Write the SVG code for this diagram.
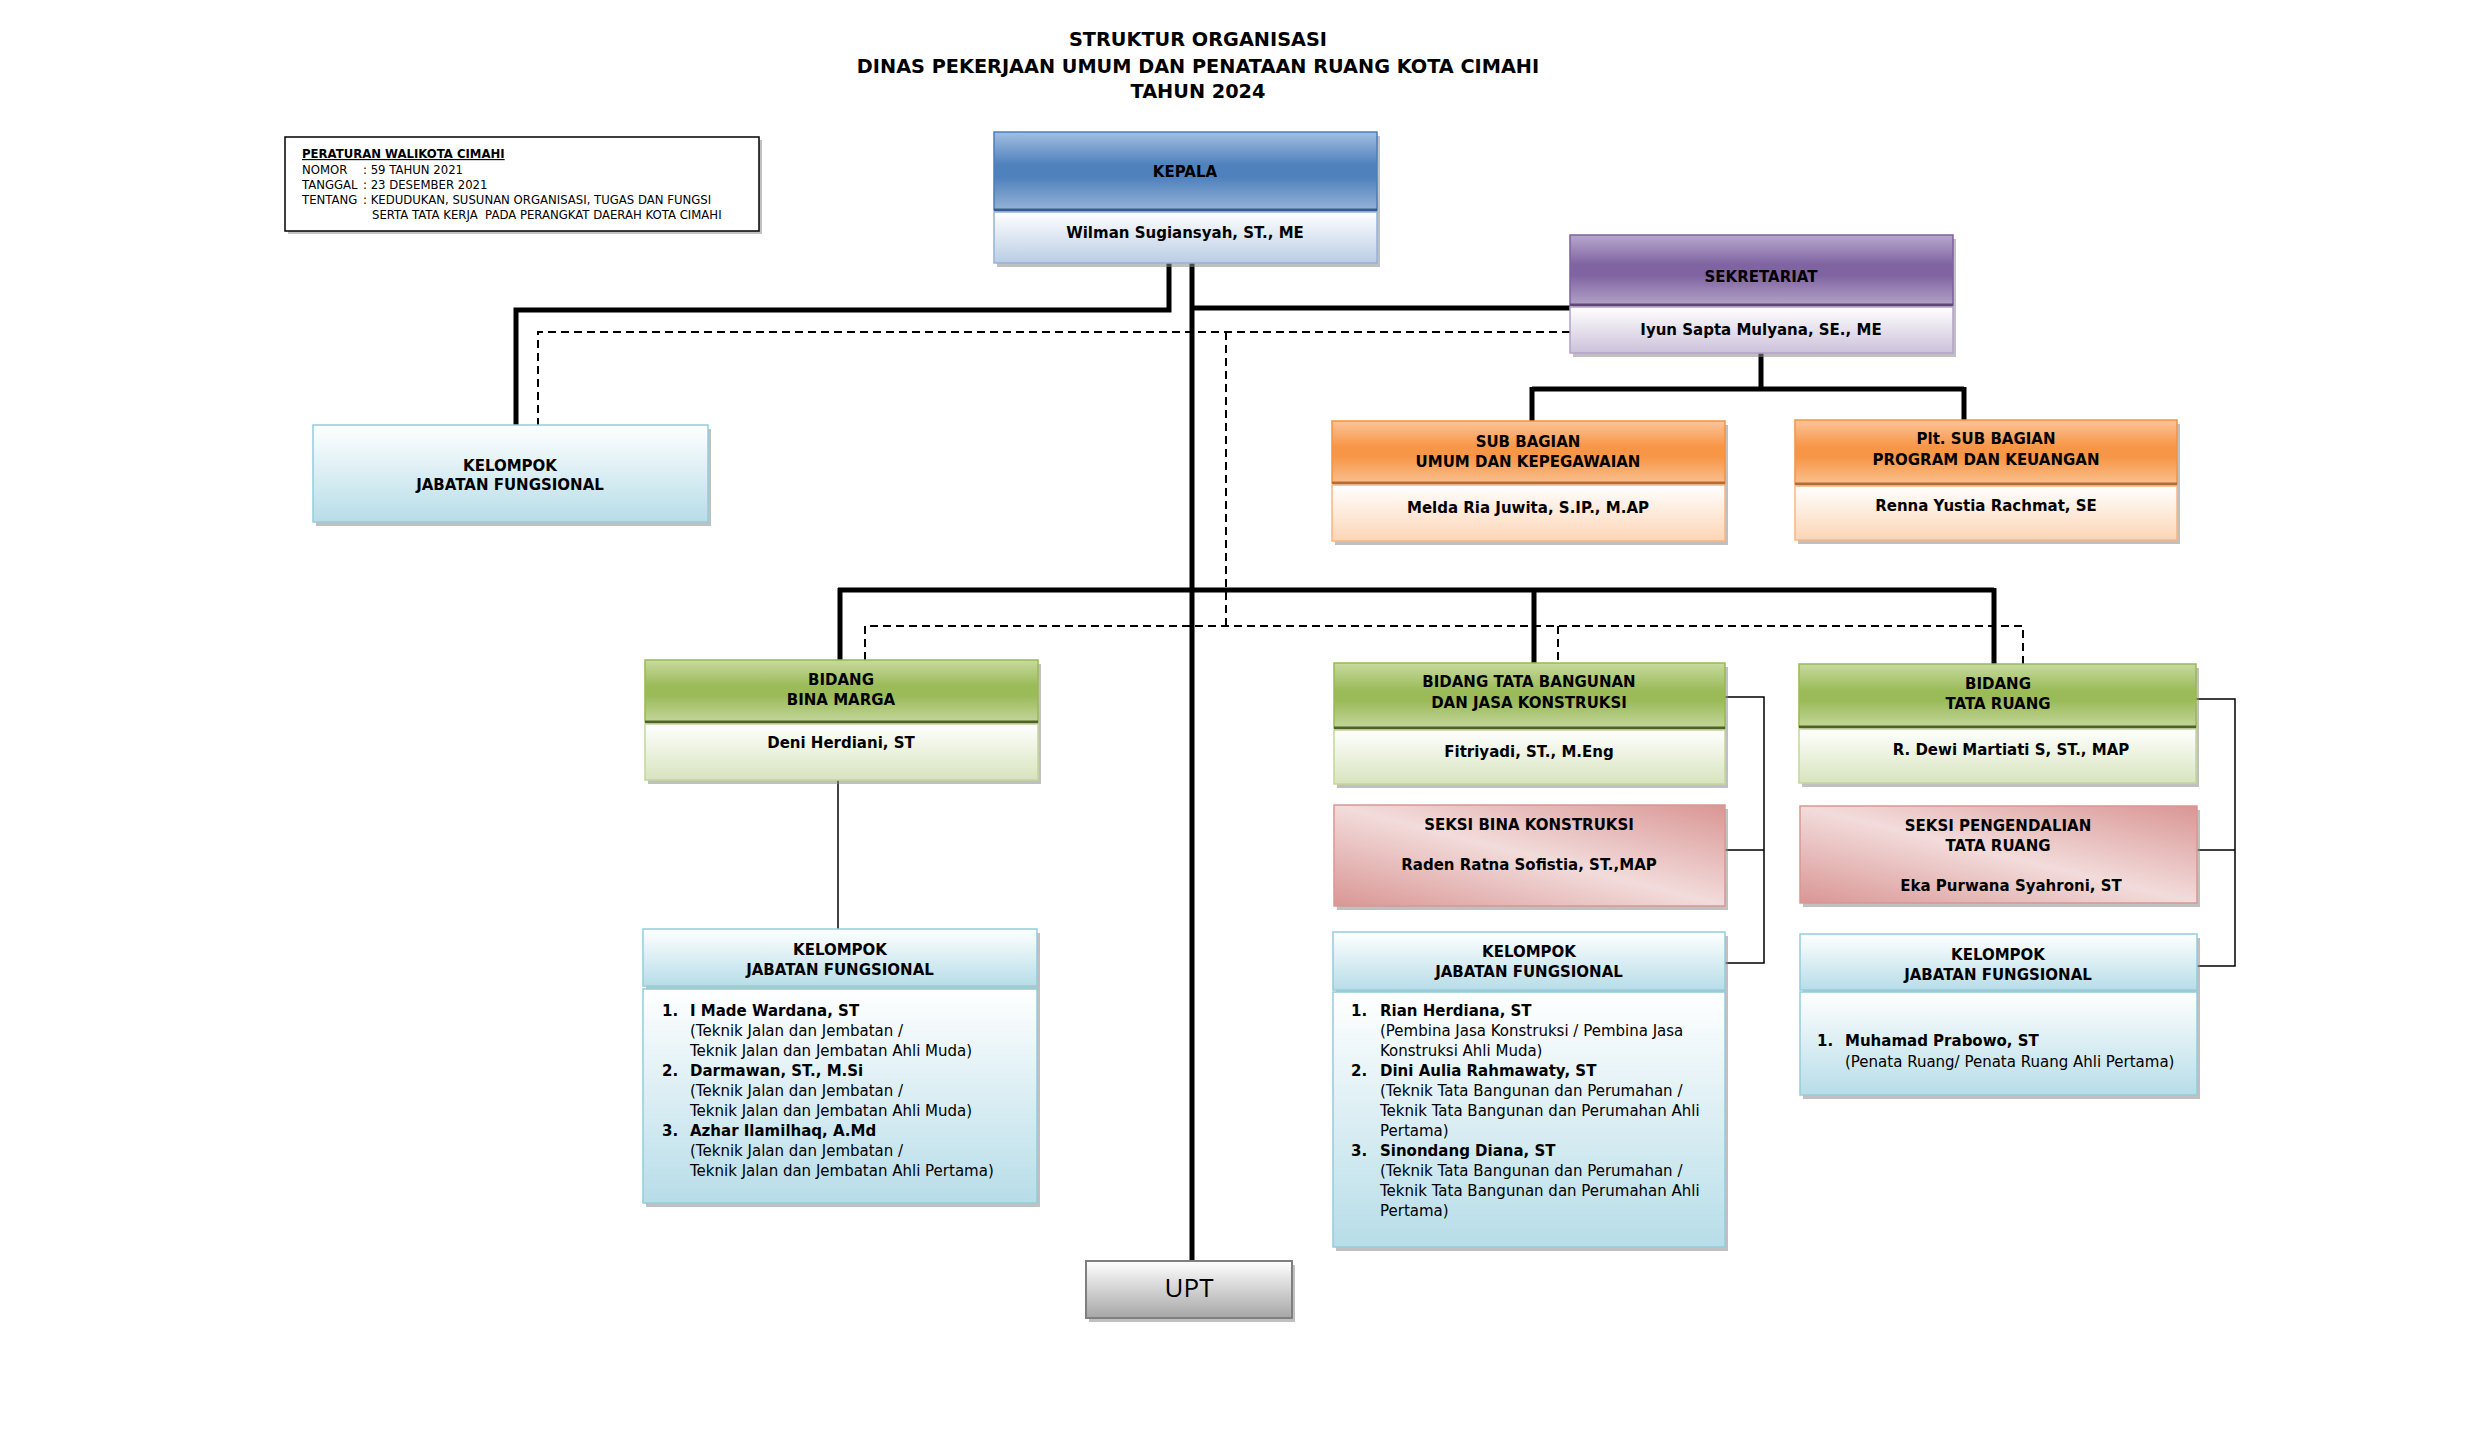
<svg xmlns="http://www.w3.org/2000/svg" width="2481" height="1448" viewBox="0 0 2481 1448">
<style>
text{font-family:"DejaVu Sans","Verdana","Liberation Sans",sans-serif;fill:#000}
.b{font-weight:bold;font-size:15px;text-anchor:middle}
.ttl{font-weight:bold;font-size:19.3px;text-anchor:middle}
.p{font-size:11.7px}
.pb{font-size:11.7px;font-weight:bold;text-decoration:underline}
.l{font-size:15px}
.lb{font-size:15px;font-weight:bold}
.upt{font-family:"Open Sans","Noto Sans",sans-serif;font-size:26px;text-anchor:middle}
.sh{fill:#8c8c8c;opacity:0.55}
.hbl{fill:url(#gBlue);stroke:#4a7ebb;stroke-width:1.5}
.nbl{fill:url(#gBlueL);stroke:#95b3d7;stroke-width:1.5}
.hpu{fill:url(#gPurple);stroke:#7d60a0;stroke-width:1.5}
.npu{fill:url(#gPurpleL);stroke:#b3a2c7;stroke-width:1.5}
.hor{fill:url(#gOrange);stroke:#f69240;stroke-width:1.5}
.nor{fill:url(#gOrangeL);stroke:#f9b583;stroke-width:1.5}
.hgr{fill:url(#gGreen);stroke:#98b954;stroke-width:1.5}
.ngr{fill:url(#gGreenL);stroke:#c3d69b;stroke-width:1.5}
.pk{fill:url(#gPink);stroke:#d99694;stroke-width:1.5}
.cy{fill:url(#gCyan);stroke:#93cddd;stroke-width:1.5}
.gy{fill:url(#gGray);stroke:#7f7f7f;stroke-width:2}
.thick{fill:none;stroke:#000;stroke-width:5}
.dash{fill:none;stroke:#000;stroke-width:2;stroke-dasharray:8 5}
.thin{fill:none;stroke:#000;stroke-width:1.5}
</style>
<defs>
<linearGradient id="gBlue" x1="0" y1="0" x2="0" y2="1"><stop offset="0" stop-color="#a3bfe2"/><stop offset="0.42" stop-color="#4f81bd"/><stop offset="0.58" stop-color="#4f81bd"/><stop offset="1" stop-color="#95b3d7"/></linearGradient>
<linearGradient id="gBlueL" x1="0" y1="0" x2="0" y2="1"><stop offset="0" stop-color="#ffffff"/><stop offset="1" stop-color="#b9cde5"/></linearGradient>
<linearGradient id="gPurple" x1="0" y1="0" x2="0" y2="1"><stop offset="0" stop-color="#b8a8cc"/><stop offset="0.42" stop-color="#8064a2"/><stop offset="0.58" stop-color="#8064a2"/><stop offset="1" stop-color="#b3a2c7"/></linearGradient>
<linearGradient id="gPurpleL" x1="0" y1="0" x2="0" y2="1"><stop offset="0" stop-color="#ffffff"/><stop offset="1" stop-color="#ccc1da"/></linearGradient>
<linearGradient id="gOrange" x1="0" y1="0" x2="0" y2="1"><stop offset="0" stop-color="#fbc49a"/><stop offset="0.42" stop-color="#f79646"/><stop offset="0.58" stop-color="#f79646"/><stop offset="1" stop-color="#fac08f"/></linearGradient>
<linearGradient id="gOrangeL" x1="0" y1="0" x2="0" y2="1"><stop offset="0" stop-color="#ffffff"/><stop offset="1" stop-color="#fcd5b5"/></linearGradient>
<linearGradient id="gGreen" x1="0" y1="0" x2="0" y2="1"><stop offset="0" stop-color="#c8da9f"/><stop offset="0.42" stop-color="#9bbb59"/><stop offset="0.58" stop-color="#9bbb59"/><stop offset="1" stop-color="#c3d69b"/></linearGradient>
<linearGradient id="gGreenL" x1="0" y1="0" x2="0" y2="1"><stop offset="0" stop-color="#ffffff"/><stop offset="1" stop-color="#d7e4bd"/></linearGradient>
<linearGradient id="gPink" x1="1" y1="0" x2="0" y2="1"><stop offset="0" stop-color="#d99694"/><stop offset="0.5" stop-color="#f2dcdb"/><stop offset="1" stop-color="#d99694"/></linearGradient>
<linearGradient id="gCyan" x1="0" y1="0" x2="0" y2="1"><stop offset="0" stop-color="#ffffff"/><stop offset="1" stop-color="#b7dde8"/></linearGradient>
<linearGradient id="gGray" x1="0" y1="0" x2="0" y2="1"><stop offset="0" stop-color="#ffffff"/><stop offset="1" stop-color="#a6a6a6"/></linearGradient>
</defs>
<rect width="2481" height="1448" fill="#ffffff"/>

<g id="title">
<text class="ttl" x="1198" y="46">STRUKTUR ORGANISASI</text>
<text class="ttl" x="1198" y="73">DINAS PEKERJAAN UMUM DAN PENATAAN RUANG KOTA CIMAHI</text>
<text class="ttl" x="1198" y="98">TAHUN 2024</text>
</g>

<g id="peraturan">
<rect x="288" y="140" width="474" height="94" fill="#9a9a9a" opacity="0.6"/>
<rect x="285" y="137" width="474" height="94" fill="#fff" stroke="#000" stroke-width="1.5"/>
<text class="pb" x="302" y="158">PERATURAN WALIKOTA CIMAHI</text>
<text class="p" x="302" y="174">NOMOR</text><text class="p" x="363" y="174">: 59 TAHUN 2021</text>
<text class="p" x="302" y="189">TANGGAL</text><text class="p" x="363" y="189">: 23 DESEMBER 2021</text>
<text class="p" x="302" y="204">TENTANG</text><text class="p" x="363" y="204">: KEDUDUKAN, SUSUNAN ORGANISASI, TUGAS DAN FUNGSI</text>
<text class="p" x="372" y="219" xml:space="preserve">SERTA TATA KERJA  PADA PERANGKAT DAERAH KOTA CIMAHI</text>
</g>

<g id="connectors">
<path class="thick" d="M1169 263 V310 H516 V425"/>
<path class="thick" d="M1192 263 V1261"/>
<path class="thick" d="M1192 308 H1570"/>
<path class="thick" d="M1761 353 V389 M1532 389 H1964 M1532 387 V421 M1964 387 V420"/>
<path class="thick" d="M838 590 H1994 M840 588 V660 M1534 590 V663 M1994 588 V664"/>
<path class="dash" d="M1570 332 H538 V425"/>
<path class="dash" d="M1226 332 V626"/>
<path class="dash" d="M865 660 V626 H2023 V664"/>
<path class="dash" d="M1558 626 V663"/>
<path class="thin" d="M838 780 V929"/>
<path class="thin" d="M1725 697 H1764 V963 H1725 M1725 850 H1764"/>
<path class="thin" d="M2196 699 H2235 V966 H2197 M2197 850 H2235"/>
</g>

<g id="kepala">
<rect class="sh" x="997" y="136" width="383" height="131"/>
<rect class="hbl" x="994" y="132" width="383" height="78"/>
<line x1="994" y1="210" x2="1377" y2="210" stroke="#385d8a" stroke-width="3"/>
<rect class="nbl" x="994" y="212" width="383" height="51"/>
<text class="b" x="1185" y="177">KEPALA</text>
<text class="b" x="1185" y="238">Wilman Sugiansyah, ST., ME</text>
</g>

<g id="sekretariat">
<rect class="sh" x="1573" y="239" width="383" height="118"/>
<rect class="hpu" x="1570" y="235" width="383" height="70"/>
<line x1="1570" y1="305" x2="1953" y2="305" stroke="#5c4776" stroke-width="3"/>
<rect class="npu" x="1570" y="307" width="383" height="46"/>
<text class="b" x="1761" y="282">SEKRETARIAT</text>
<text class="b" x="1761" y="335">Iyun Sapta Mulyana, SE., ME</text>
</g>

<g id="kjf-atas">
<rect class="sh" x="316" y="429" width="395" height="97"/>
<rect class="cy" x="313" y="425" width="395" height="97"/>
<text class="b" x="510" y="471">KELOMPOK</text>
<text class="b" x="510" y="490">JABATAN FUNGSIONAL</text>
</g>

<g id="subbag-umum">
<rect class="sh" x="1335" y="425" width="393" height="120"/>
<rect class="hor" x="1332" y="421" width="393" height="62"/>
<line x1="1332" y1="483" x2="1725" y2="483" stroke="#b66d31" stroke-width="3"/>
<rect class="nor" x="1332" y="485" width="393" height="56"/>
<text class="b" x="1528" y="447">SUB BAGIAN</text>
<text class="b" x="1528" y="467">UMUM DAN KEPEGAWAIAN</text>
<text class="b" x="1528" y="513">Melda Ria Juwita, S.IP., M.AP</text>
</g>

<g id="subbag-program">
<rect class="sh" x="1798" y="424" width="382" height="120"/>
<rect class="hor" x="1795" y="420" width="382" height="64"/>
<line x1="1795" y1="484" x2="2177" y2="484" stroke="#b66d31" stroke-width="3"/>
<rect class="nor" x="1795" y="486" width="382" height="54"/>
<text class="b" x="1986" y="444">Plt. SUB BAGIAN</text>
<text class="b" x="1986" y="465">PROGRAM DAN KEUANGAN</text>
<text class="b" x="1986" y="511">Renna Yustia Rachmat, SE</text>
</g>

<g id="bidang-bina-marga">
<rect class="sh" x="648" y="664" width="393" height="120"/>
<rect class="hgr" x="645" y="660" width="393" height="62"/>
<line x1="645" y1="722" x2="1038" y2="722" stroke="#4f6228" stroke-width="3"/>
<rect class="ngr" x="645" y="724" width="393" height="56"/>
<text class="b" x="841" y="685">BIDANG</text>
<text class="b" x="841" y="705">BINA MARGA</text>
<text class="b" x="841" y="748">Deni Herdiani, ST</text>
</g>

<g id="bidang-tata-bangunan">
<rect class="sh" x="1337" y="667" width="391" height="121"/>
<rect class="hgr" x="1334" y="663" width="391" height="65"/>
<line x1="1334" y1="728" x2="1725" y2="728" stroke="#4f6228" stroke-width="3"/>
<rect class="ngr" x="1334" y="730" width="391" height="54"/>
<text class="b" x="1529" y="687">BIDANG TATA BANGUNAN</text>
<text class="b" x="1529" y="708">DAN JASA KONSTRUKSI</text>
<text class="b" x="1529" y="757">Fitriyadi, ST., M.Eng</text>
</g>

<g id="bidang-tata-ruang">
<rect class="sh" x="1802" y="668" width="397" height="119"/>
<rect class="hgr" x="1799" y="664" width="397" height="63"/>
<line x1="1799" y1="727" x2="2196" y2="727" stroke="#4f6228" stroke-width="3"/>
<rect class="ngr" x="1799" y="729" width="397" height="54"/>
<text class="b" x="1998" y="689">BIDANG</text>
<text class="b" x="1998" y="709">TATA RUANG</text>
<text class="b" x="2011" y="755">R. Dewi Martiati S, ST., MAP</text>
</g>

<g id="seksi-bina-konstruksi">
<rect class="sh" x="1337" y="809" width="391" height="101"/>
<rect class="pk" x="1334" y="805" width="391" height="101"/>
<text class="b" x="1529" y="830">SEKSI BINA KONSTRUKSI</text>
<text class="b" x="1529" y="870">Raden Ratna Sofistia, ST.,MAP</text>
</g>

<g id="seksi-pengendalian">
<rect class="sh" x="1803" y="810" width="397" height="97"/>
<rect class="pk" x="1800" y="806" width="397" height="97"/>
<text class="b" x="1998" y="831">SEKSI PENGENDALIAN</text>
<text class="b" x="1998" y="851">TATA RUANG</text>
<text class="b" x="2011" y="891">Eka Purwana Syahroni, ST</text>
</g>

<g id="kjf-bina-marga">
<rect class="sh" x="646" y="933" width="394" height="274"/>
<rect class="cy" x="643" y="929" width="394" height="57"/>
<rect class="cy" x="643" y="989" width="394" height="214"/>
<text class="b" x="840" y="955">KELOMPOK</text>
<text class="b" x="840" y="975">JABATAN FUNGSIONAL</text>
<text class="lb" x="662" y="1016">1.</text><text class="lb" x="690" y="1016">I Made Wardana, ST</text>
<text class="l" x="690" y="1036">(Teknik Jalan dan Jembatan /</text>
<text class="l" x="690" y="1056">Teknik Jalan dan Jembatan Ahli Muda)</text>
<text class="lb" x="662" y="1076">2.</text><text class="lb" x="690" y="1076">Darmawan, ST., M.Si</text>
<text class="l" x="690" y="1096">(Teknik Jalan dan Jembatan /</text>
<text class="l" x="690" y="1116">Teknik Jalan dan Jembatan Ahli Muda)</text>
<text class="lb" x="662" y="1136">3.</text><text class="lb" x="690" y="1136">Azhar Ilamilhaq, A.Md</text>
<text class="l" x="690" y="1156">(Teknik Jalan dan Jembatan /</text>
<text class="l" x="690" y="1176">Teknik Jalan dan Jembatan Ahli Pertama)</text>
</g>

<g id="kjf-tata-bangunan">
<rect class="sh" x="1336" y="936" width="392" height="315"/>
<rect class="cy" x="1333" y="932" width="392" height="58"/>
<rect class="cy" x="1333" y="992" width="392" height="255"/>
<text class="b" x="1529" y="957">KELOMPOK</text>
<text class="b" x="1529" y="977">JABATAN FUNGSIONAL</text>
<text class="lb" x="1351" y="1016">1.</text><text class="lb" x="1380" y="1016">Rian Herdiana, ST</text>
<text class="l" x="1380" y="1036">(Pembina Jasa Konstruksi / Pembina Jasa</text>
<text class="l" x="1380" y="1056">Konstruksi Ahli Muda)</text>
<text class="lb" x="1351" y="1076">2.</text><text class="lb" x="1380" y="1076">Dini Aulia Rahmawaty, ST</text>
<text class="l" x="1380" y="1096">(Teknik Tata Bangunan dan Perumahan /</text>
<text class="l" x="1380" y="1116">Teknik Tata Bangunan dan Perumahan Ahli</text>
<text class="l" x="1380" y="1136">Pertama)</text>
<text class="lb" x="1351" y="1156">3.</text><text class="lb" x="1380" y="1156">Sinondang Diana, ST</text>
<text class="l" x="1380" y="1176">(Teknik Tata Bangunan dan Perumahan /</text>
<text class="l" x="1380" y="1196">Teknik Tata Bangunan dan Perumahan Ahli</text>
<text class="l" x="1380" y="1216">Pertama)</text>
</g>

<g id="kjf-tata-ruang">
<rect class="sh" x="1803" y="938" width="397" height="161"/>
<rect class="cy" x="1800" y="934" width="397" height="56"/>
<rect class="cy" x="1800" y="992" width="397" height="103"/>
<text class="b" x="1998" y="960">KELOMPOK</text>
<text class="b" x="1998" y="980">JABATAN FUNGSIONAL</text>
<text class="lb" x="1817" y="1046">1.</text><text class="lb" x="1845" y="1046">Muhamad Prabowo, ST</text>
<text class="l" x="1845" y="1067">(Penata Ruang/ Penata Ruang Ahli Pertama)</text>
</g>

<g id="upt">
<rect class="sh" x="1089" y="1265" width="206" height="57"/>
<rect class="gy" x="1086" y="1261" width="206" height="57"/>
<text class="upt" x="1189" y="1297">UPT</text>
</g>
</svg>
